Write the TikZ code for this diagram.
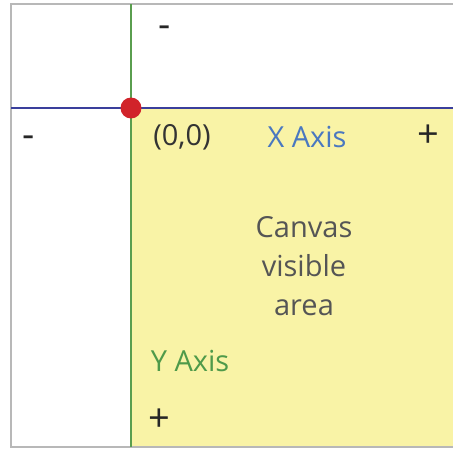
\documentclass[tikz,border=0pt]{standalone}
\usepackage{fontspec}
\setmainfont{Open Sans}
\definecolor{frame}{HTML}{B8B8B8}
\definecolor{yel}{HTML}{F9F3A6}
\definecolor{xblue}{HTML}{3A3F9C}
\definecolor{ygreen}{HTML}{5A9E4F}
\definecolor{dotred}{HTML}{D1232A}
\definecolor{txtgray}{HTML}{555555}
\definecolor{xlab}{HTML}{4A78C0}
\definecolor{ylab}{HTML}{4F9A4A}
\tikzset{
  lbl/.style={font=\fontsize{29}{39}\selectfont, inner sep=0pt, align=center},
  sign/.style={font=\fontsize{38}{40}\selectfont, inner sep=0pt, text=black!85}
}
\begin{document}
\begin{tikzpicture}[x=1pt,y=-1pt]
\useasboundingbox (0,0) rectangle (453,450);
% frame
\coordinate (ftl) at (11,4);
\coordinate (fbl) at (11,447);
\coordinate (fbr) at (453,447);
\coordinate (ftr) at (453,4);
\fill[yel] (131,108) rectangle (453,447);
\draw[frame, line width=2pt] (ftr) -- (ftl) -- (fbl) -- (fbr);
% axes
\coordinate (o) at (131,108);
\coordinate (xl) at (11,108);
\coordinate (xr) at (453,108);
\coordinate (yt) at (131,4);
\coordinate (yb) at (131,447);
\draw[xblue, line width=2.4pt] (xl) -- (xr);
\draw[ygreen, line width=2.6pt] (yt) -- (yb);
\fill[dotred] (o) circle (10.5);
% labels
\node[sign] (mt) at (165,32) {-};
\node[sign] (ml) at (29,142) {-};
\node[sign] (px) at (428,136) {+};
\node[sign] (py) at (159,420) {+};
\node[lbl, text=black!80] (orig) at (182,137) {(0,0)};
\node[lbl, text=xlab] (xa) at (307,137) {X Axis};
\node[lbl, text=ylab] (ya) at (190,361) {Y Axis};
\node[lbl, text=txtgray] (cv) at (304,266) {Canvas\\visible\\area};
\end{tikzpicture}
\end{document}
